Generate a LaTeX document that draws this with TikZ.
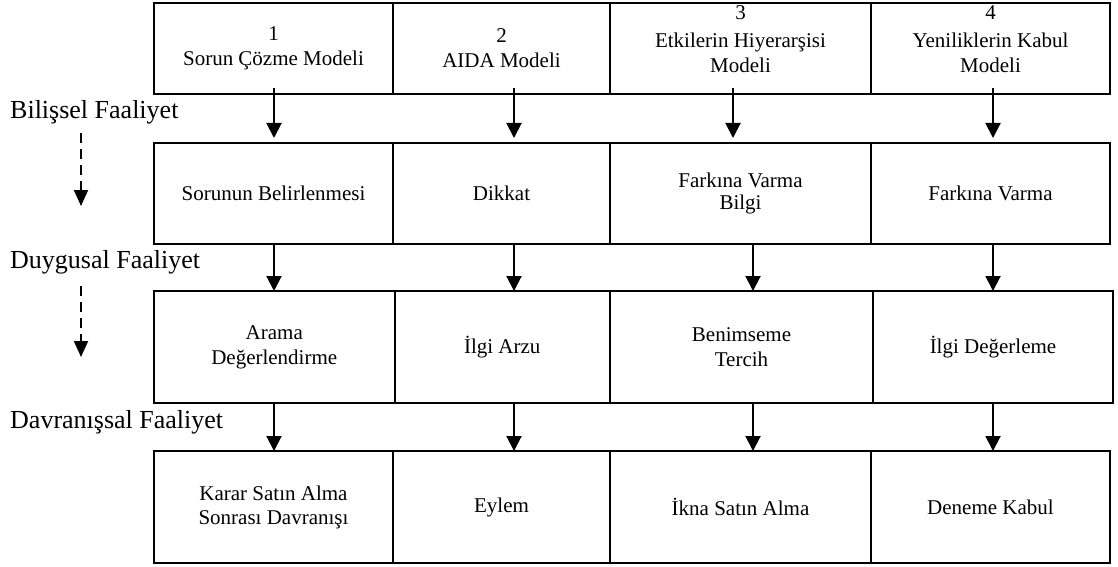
\documentclass[tikz,border=0pt]{standalone}
\usepackage{fontspec}
\setmainfont{Liberation Serif}
\usetikzlibrary{arrows.meta}
\tikzset{
  cell/.style={draw, line width=2pt, inner sep=0pt, outer sep=0pt},
  txt/.style={align=center, inner sep=0pt, font=\fontsize{21}{25}\selectfont},
  side/.style={inner sep=0pt, anchor=base west, font=\fontsize{26}{30}\selectfont},
  arr/.style={line width=2pt, -{Triangle[width=15pt,length=15pt]}},
  darr/.style={line width=2pt, dash pattern=on 10pt off 6pt, -{Triangle[width=14pt,length=16pt]}}
}
\begin{document}
\begin{tikzpicture}[x=1pt,y=-1pt]
\useasboundingbox (0,0) rectangle (1118,567);
% row 1
\node[cell, minimum width=239pt, minimum height=91pt] (a1) at (273.5,48.5) {};
\node[cell, minimum width=217pt, minimum height=91pt] (a2) at (501.5,48.5) {};
\node[cell, minimum width=261pt, minimum height=91pt] (a3) at (740.5,48.5) {};
\node[cell, minimum width=239pt, minimum height=91pt] (a4) at (990.5,48.5) {};
% row 2
\node[cell, minimum width=239pt, minimum height=101pt] (b1) at (273.5,193.5) {};
\node[cell, minimum width=217pt, minimum height=101pt] (b2) at (501.5,193.5) {};
\node[cell, minimum width=261pt, minimum height=101pt] (b3) at (740.5,193.5) {};
\node[cell, minimum width=239pt, minimum height=101pt] (b4) at (990.5,193.5) {};
% row 3
\node[cell, minimum width=240.5pt, minimum height=112pt] (c1) at (274.25,347) {};
\node[cell, minimum width=215.5pt, minimum height=112pt] (c2) at (502.25,347) {};
\node[cell, minimum width=263pt, minimum height=112pt] (c3) at (741.5,347) {};
\node[cell, minimum width=240pt, minimum height=112pt] (c4) at (993,347) {};
% row 4
\node[cell, minimum width=239pt, minimum height=112pt] (d1) at (273.5,507) {};
\node[cell, minimum width=217pt, minimum height=112pt] (d2) at (501.5,507) {};
\node[cell, minimum width=261pt, minimum height=112pt] (d3) at (740.5,507) {};
\node[cell, minimum width=239pt, minimum height=112pt] (d4) at (990.5,507) {};
% texts
\node[txt] (ta1) at (a1.center) {1\\Sorun Çözme Modeli};
\node[txt] (ta2) at (a2.center) {2\\AIDA Modeli};
\node[txt, yshift=9pt] (ta3) at (a3.center) {3\\[3pt]Etkilerin Hiyerarşisi\\Modeli};
\node[txt, yshift=9pt] (ta4) at (a4.center) {4\\[3pt]Yeniliklerin Kabul\\Modeli};
\node[txt] (tb1) at (b1.center) {Sorunun Belirlenmesi};
\node[txt] (tb2) at (b2.center) {Dikkat};
\node[txt] (tb3) at (b3.center) {Farkına Varma\\[-3pt]Bilgi};
\node[txt] (tb4) at (b4.center) {Farkına Varma};
\node[txt] (tc1) at (c1.center) {Arama\\Değerlendirme};
\node[txt] (tc2) at (c2.center) {İlgi Arzu};
\node[txt] (tc3) at (c3.center) {Benimseme\\Tercih};
\node[txt] (tc4) at (c4.center) {İlgi Değerleme};
\node[txt] (td1) at (d1.center) {Karar Satın Alma\\[-1pt]Sonrası Davranışı};
\node[txt] (td2) at (d2.center) {Eylem};
\node[txt] (td3) at (d3.center) {İkna Satın Alma};
\node[txt] (td4) at (d4.center) {Deneme Kabul};
% side labels
\node[side] (l1) at (10,118) {Bilişsel Faaliyet};
\node[side] (l2) at (10,268) {Duygusal Faaliyet};
\node[side] (l3) at (10,428) {Davranışsal Faaliyet};
% dashed arrows
\coordinate (s1) at (81,133);
\coordinate (e1) at (81,206);
\coordinate (s2) at (81,286);
\coordinate (e2) at (81,357);
\draw[darr] (s1) -- (e1);
\draw[darr] (s2) -- (e2);
% arrows row1 -> row2
\draw[arr] ([xshift=0.5pt,yshift=6pt]a1.south) -- ([xshift=0.5pt,yshift=5pt]b1.north);
\draw[arr] ([xshift=12.5pt,yshift=6pt]a2.south) -- ([xshift=12.5pt,yshift=5pt]b2.north);
\draw[arr] ([xshift=-7.5pt,yshift=6pt]a3.south) -- ([xshift=-7.5pt,yshift=5pt]b3.north);
\draw[arr] ([xshift=2.5pt,yshift=6pt]a4.south) -- ([xshift=2.5pt,yshift=5pt]b4.north);
% arrows row2 -> row3
\draw[arr] ([xshift=0.5pt]b1.south) -- ([xshift=-0.25pt]c1.north);
\draw[arr] ([xshift=12.5pt]b2.south) -- ([xshift=11.75pt]c2.north);
\draw[arr] ([xshift=12.5pt]b3.south) -- ([xshift=11.5pt]c3.north);
\draw[arr] ([xshift=2.5pt]b4.south) -- (c4.north);
% arrows row3 -> row4
\draw[arr] ([xshift=-0.25pt]c1.south) -- ([xshift=0.5pt]d1.north);
\draw[arr] ([xshift=11.75pt]c2.south) -- ([xshift=12.5pt]d2.north);
\draw[arr] ([xshift=11.5pt]c3.south) -- ([xshift=12.5pt]d3.north);
\draw[arr] (c4.south) -- ([xshift=2.5pt]d4.north);
\end{tikzpicture}
\end{document}
